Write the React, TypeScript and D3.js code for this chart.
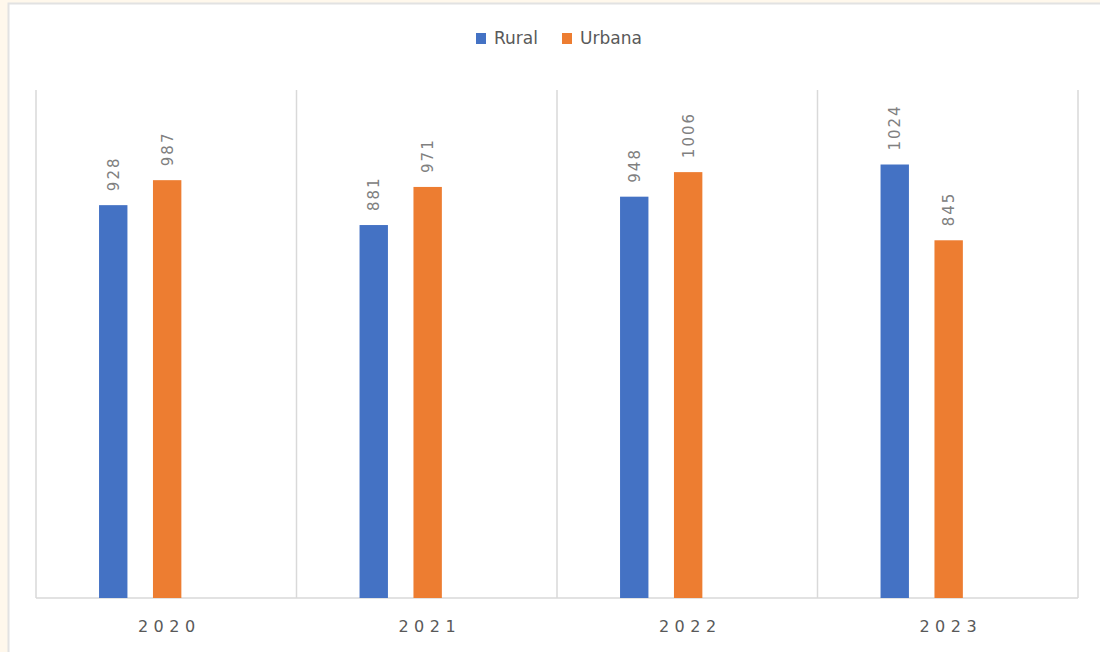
import React from "react";
import * as d3 from "d3";

const categories = ["2020", "2021", "2022", "2023"];
const seriesNames = ["Rural", "Urbana"];
const rural = [928, 881, 948, 1024];
const urbana = [987, 971, 1006, 845];
const colors = ["#4472C4", "#ED7D31"];

const W = 1100;
const H = 652;
const plot = { left: 36, right: 1078, top: 90, bottom: 598 };

export default function App() {
  const x = d3.scaleBand<string>().domain(categories).range([plot.left, plot.right]).padding(0);
  const y = d3.scaleLinear().domain([0, 1200]).range([plot.bottom, plot.top]);
  const bw = x.bandwidth();
  const offsets = [0.242, 0.449];
  const barW = bw * 0.109;
  const series = [rural, urbana];
  const font = "'DejaVu Sans', Verdana, sans-serif";
  const boundaries = [...categories.map((c) => x(c) as number), plot.right];

  return (
    <div>
      <style>{`body{margin:0;}`}</style>
      <svg width={W} height={H} style={{ display: "block" }}>
        <rect x={0} y={0} width={W} height={H} fill="#fff8ec" />
        <rect x={8.5} y={3.5} width={W} height={H} fill="#ffffff" stroke="#e2e2e2" strokeWidth={2} />
        {boundaries.map((bx, i) => (
          <line key={i} x1={bx} x2={bx} y1={plot.top} y2={plot.bottom} stroke="#d9d9d9" strokeWidth={1.5} />
        ))}
        <line x1={plot.left} x2={plot.right} y1={plot.bottom} y2={plot.bottom} stroke="#d9d9d9" strokeWidth={1.5} />
        {series.map((vals, si) =>
          vals.map((v, ci) => {
            const bx = (x(categories[ci]) as number) + bw * offsets[si];
            const by = y(v);
            return (
              <g key={`${si}-${ci}`}>
                <rect x={bx} y={by} width={barW} height={plot.bottom - by} fill={colors[si]} />
                <text
                  transform={`translate(${bx + barW / 2 + 5.5},${by - 14}) rotate(-90)`}
                  fontFamily={font}
                  fontSize={15}
                  letterSpacing={2}
                  fill="#808080"
                  textAnchor="start"
                >
                  {v}
                </text>
              </g>
            );
          })
        )}
        {categories.map((c) => (
          <text
            key={c}
            x={(x(c) as number) + bw / 2 + 3}
            y={632}
            textAnchor="middle"
            fontFamily={font}
            fontSize={16}
            letterSpacing={5.5}
            fill="#595959"
          >
            {c}
          </text>
        ))}
        <g>
          <rect x={476} y={33} width={10} height={11} fill={colors[0]} />
          <text x={494} y={44} fontFamily={font} fontSize={17} fill="#595959">
            {seriesNames[0]}
          </text>
          <rect x={562} y={33} width={10} height={11} fill={colors[1]} />
          <text x={580} y={44} fontFamily={font} fontSize={17} fill="#595959">
            {seriesNames[1]}
          </text>
        </g>
      </svg>
    </div>
  );
}
